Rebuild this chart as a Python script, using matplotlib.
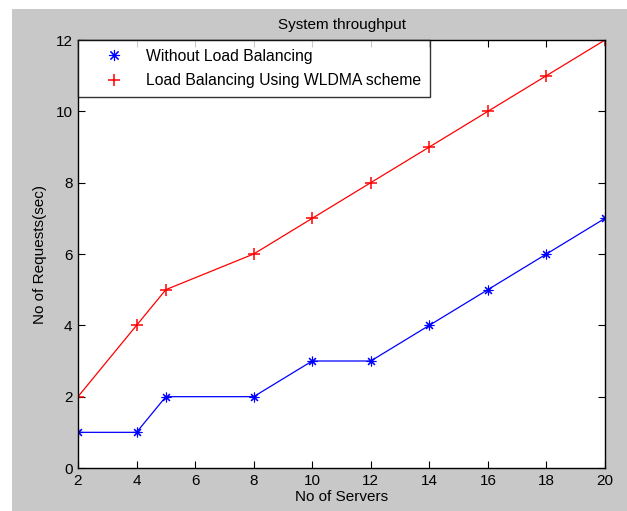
import matplotlib.pyplot as plt
from matplotlib.patches import Rectangle

servers = [2, 4, 5, 8, 10, 12, 14, 16, 18, 20]
without_lb = [1, 1, 2, 2, 3, 3, 4, 5, 6, 7]
with_wldma = [2, 4, 5, 6, 7, 8, 9, 10, 11, 12]

plt.rcParams['font.family'] = ['Liberation Sans', 'DejaVu Sans']

fig = plt.figure(figsize=(6.27, 5.11), dpi=100)
fig.patch.set_facecolor('white')
# grey MATLAB-style figure background
fig.patches.append(Rectangle((12 / 627, 0), 1, 1 - 9 / 511, transform=fig.transFigure,
                             facecolor='#c8c8c8', edgecolor='none', zorder=-10))

ax = fig.add_axes([78 / 627, 1 - 468 / 511, 527 / 627, 428 / 511])
ax.set_facecolor('white')

asterisk = (8, 2, 0)
ax.plot(servers, without_lb, color='blue', marker=asterisk, markersize=7, markeredgewidth=0.8,
        linewidth=0.9, label='Without Load Balancing')
ax.plot(servers, with_wldma, color='red', marker='+', markersize=9, markeredgewidth=1.1,
        linewidth=0.9, label='Load Balancing Using WLDMA scheme')

ax.set_xlim(2, 20)
ax.set_ylim(0, 12)
ax.set_xticks(range(2, 21, 2))
ax.set_yticks(range(0, 13, 2))
ax.tick_params(direction='in', top=True, right=True, labelsize=11, length=5, pad=4)
for s in ax.spines.values():
    s.set_linewidth(1.0)

ax.set_title('System throughput', fontsize=11, pad=8)
ax.set_xlabel('No of Servers', fontsize=11, labelpad=2)
ax.set_ylabel('No of Requests(sec)', fontsize=11, labelpad=6)

leg = ax.legend(loc='upper left', bbox_to_anchor=(0, 1), fontsize=11.3, frameon=True,
                fancybox=False, borderaxespad=0, handlelength=3.5, handletextpad=0.3,
                borderpad=0.55, labelspacing=0.6)
for h in leg.get_lines():
    h.set_linestyle('none')
    h.set_markersize(8)
leg.get_frame().set_edgecolor('black')
leg.get_frame().set_linewidth(1.0)

plt.savefig('out.png', dpi=100)
